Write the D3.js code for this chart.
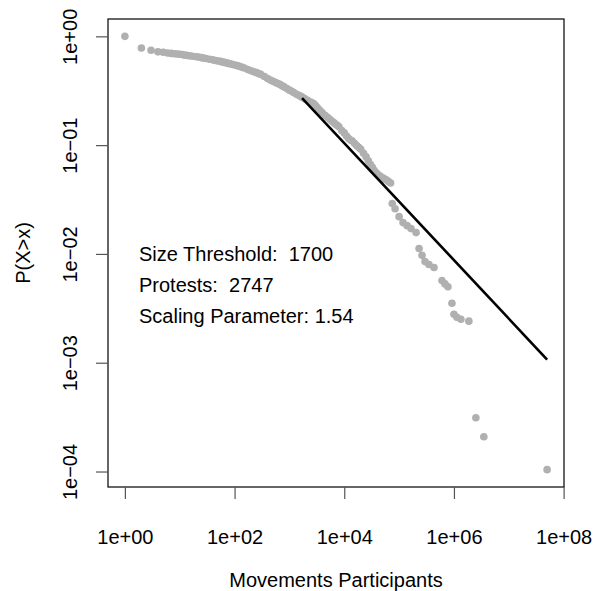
<!DOCTYPE html>
<html>
<head>
<meta charset="utf-8" />
<script src="https://d3js.org/d3.v7.min.js"></script>
<style>
    body { margin: 0; background: #fff; }
    text { font-family: "Liberation Sans", Arial, sans-serif; fill: #000; }
</style>
</head>
<body>
<script>
    const participants = [
        1, 2, 3, 4, 5, 6, 7, 8, 9, 10, 11, 12, 13, 14, 15, 17, 20, 22, 25, 27, 30, 35, 40, 45, 50,
        55, 60, 65, 70, 75, 80, 90, 100, 110, 120, 135, 150, 175, 200, 225, 250, 275, 300, 350, 400,
        450, 500, 550, 600, 650, 700, 750, 800, 900, 1000, 1100, 1200, 1350, 1500, 1600, 1700, 1850,
        2000, 2200, 2500, 2750, 3000, 3250, 3500, 3750, 4000, 4500, 5000, 5500, 6000, 6500, 7000,
        7500, 8000, 9000, 10000, 11000, 12000, 13000, 14000, 15500, 17000, 18500, 20000, 22500,
        25000, 27500, 30000, 32500, 35000, 37500, 40000, 45000, 50000, 55000, 60000, 65000, 70000,
        75000, 84500, 100000, 118000, 140000, 165000, 204000, 231000, 262000, 297000, 351000,
        433000, 605000, 686000, 777000, 920000, 1000000, 1130000, 1340000, 1870000, 2510000,
        3510000, 50000000
    ];
    const probExceed = [
        1, 0.78, 0.745, 0.72, 0.714, 0.703, 0.697, 0.692, 0.687, 0.684, 0.68, 0.674, 0.67, 0.667,
        0.663, 0.657, 0.649, 0.645, 0.637, 0.633, 0.626, 0.616, 0.608, 0.6, 0.594, 0.588, 0.582,
        0.576, 0.571, 0.566, 0.561, 0.553, 0.546, 0.539, 0.532, 0.521, 0.511, 0.495, 0.482, 0.472,
        0.464, 0.456, 0.447, 0.427, 0.41, 0.396, 0.387, 0.379, 0.371, 0.364, 0.357, 0.349, 0.343,
        0.331, 0.32, 0.312, 0.304, 0.294, 0.286, 0.281, 0.276, 0.27, 0.263, 0.256, 0.247, 0.241,
        0.231, 0.22, 0.2115, 0.204, 0.197, 0.1875, 0.1795, 0.1717, 0.1657, 0.1605, 0.1558, 0.1516,
        0.1475, 0.1365, 0.1295, 0.1215, 0.115, 0.1112, 0.1089, 0.1033, 0.0985, 0.0952, 0.0916,
        0.0842, 0.078, 0.0718, 0.0664, 0.0627, 0.0587, 0.056, 0.0545, 0.0519, 0.0501, 0.0487,
        0.0475, 0.0461, 0.0448, 0.029, 0.026, 0.022, 0.0194, 0.0182, 0.0171, 0.0157, 0.0112,
        0.0097, 0.0085, 0.008, 0.0075, 0.0057, 0.0053, 0.005, 0.00352, 0.00279, 0.00262, 0.00251,
        0.00241, 0.000312, 0.000209, 0.000104
    ];

    // fitted power-law line (endpoints)
    const fitX = [1700, 50000000];
    const fitY = [0.271, 0.00107];

    const xTicks = [1e0, 1e2, 1e4, 1e6, 1e8];
    const xTickLabels = ['1e+00', '1e+02', '1e+04', '1e+06', '1e+08'];
    const yTicks = [1e0, 1e-1, 1e-2, 1e-3, 1e-4];
    const yTickLabels = ['1e+00', '1e\u221201', '1e\u221202', '1e\u221203', '1e\u221204'];

    const legendLines = ['Size Threshold:  1700', 'Protests:  2747', 'Scaling Parameter: 1.54'];

    const width = 596, height = 591;
    const box = { left: 108, right: 564, top: 19, bottom: 487 };
    const fontSize = '20px';

    const svg = d3.select('body').append('svg')
        .attr('width', width)
        .attr('height', height);

    // R-style 4% padding in log space
    const pad = (ext) => {
        const lo = Math.log10(ext[0]), hi = Math.log10(ext[1]);
        const r = hi - lo;
        return [Math.pow(10, lo - 0.04 * r), Math.pow(10, hi + 0.04 * r)];
    };

    const x = d3.scaleLog()
        .domain(pad(d3.extent(participants)))
        .range([box.left, box.right]);
    const y = d3.scaleLog()
        .domain(pad(d3.extent(probExceed)))
        .range([box.bottom, box.top]);

    const points = participants.map((v, i) => ({ x: v, p: probExceed[i] }));

    // points
    svg.append('g')
        .selectAll('circle')
        .data(points)
        .enter()
        .append('circle')
        .attr('cx', d => x(d.x))
        .attr('cy', d => y(d.p))
        .attr('r', 3.8)
        .style('fill', '#b0b0b0');

    // fit line
    svg.append('path')
        .datum(fitX.map((v, i) => [v, fitY[i]]))
        .attr('d', d3.line().x(d => x(d[0])).y(d => y(d[1])))
        .style('fill', 'none')
        .style('stroke', '#000')
        .style('stroke-width', 2.6);

    // plot box
    svg.append('rect')
        .attr('x', box.left)
        .attr('y', box.top)
        .attr('width', box.right - box.left)
        .attr('height', box.bottom - box.top)
        .style('fill', 'none')
        .style('stroke', '#000')
        .style('stroke-width', 1.2);

    // x axis
    const xAxis = svg.append('g')
        .attr('transform', `translate(0,${box.bottom})`)
        .call(d3.axisBottom(x).tickValues(xTicks)
            .tickFormat((d, i) => xTickLabels[i])
            .tickSizeOuter(0).tickSizeInner(12));
    xAxis.select('.domain').remove();
    xAxis.selectAll('.tick line').style('stroke', '#555').style('stroke-width', 1.2);
    xAxis.selectAll('.tick text')
        .attr('y', 57).attr('dy', null)
        .style('font-size', fontSize)
        .style('font-family', '"Liberation Sans", Arial, sans-serif')
        .attr('fill', '#000');

    // y axis
    const yAxis = svg.append('g')
        .attr('transform', `translate(${box.left},0)`)
        .call(d3.axisLeft(y).tickValues(yTicks)
            .tickFormat((d, i) => yTickLabels[i])
            .tickSizeOuter(0).tickSizeInner(12));
    yAxis.select('.domain').remove();
    yAxis.selectAll('.tick line').style('stroke', '#555').style('stroke-width', 1.2);
    yAxis.selectAll('.tick text')
        .attr('x', null).attr('dy', null)
        .attr('transform', 'translate(-31,0) rotate(-90)')
        .style('text-anchor', 'middle')
        .style('font-size', fontSize)
        .style('font-family', '"Liberation Sans", Arial, sans-serif')
        .attr('fill', '#000');

    // axis titles
    svg.append('text')
        .attr('x', (box.left + box.right) / 2)
        .attr('y', 587)
        .style('text-anchor', 'middle')
        .style('font-size', fontSize)
        .text('Movements Participants');

    svg.append('text')
        .attr('transform', `translate(30,${(box.top + box.bottom) / 2}) rotate(-90)`)
        .style('text-anchor', 'middle')
        .style('font-size', fontSize)
        .text('P(X>x)');

    // annotation text
    svg.append('g')
        .selectAll('text')
        .data(legendLines)
        .enter()
        .append('text')
        .attr('x', 139)
        .attr('y', (d, i) => 261 + i * 31)
        .style('font-size', fontSize)
        .style('white-space', 'pre')
        .text(d => d);
</script>
</body>
</html>
